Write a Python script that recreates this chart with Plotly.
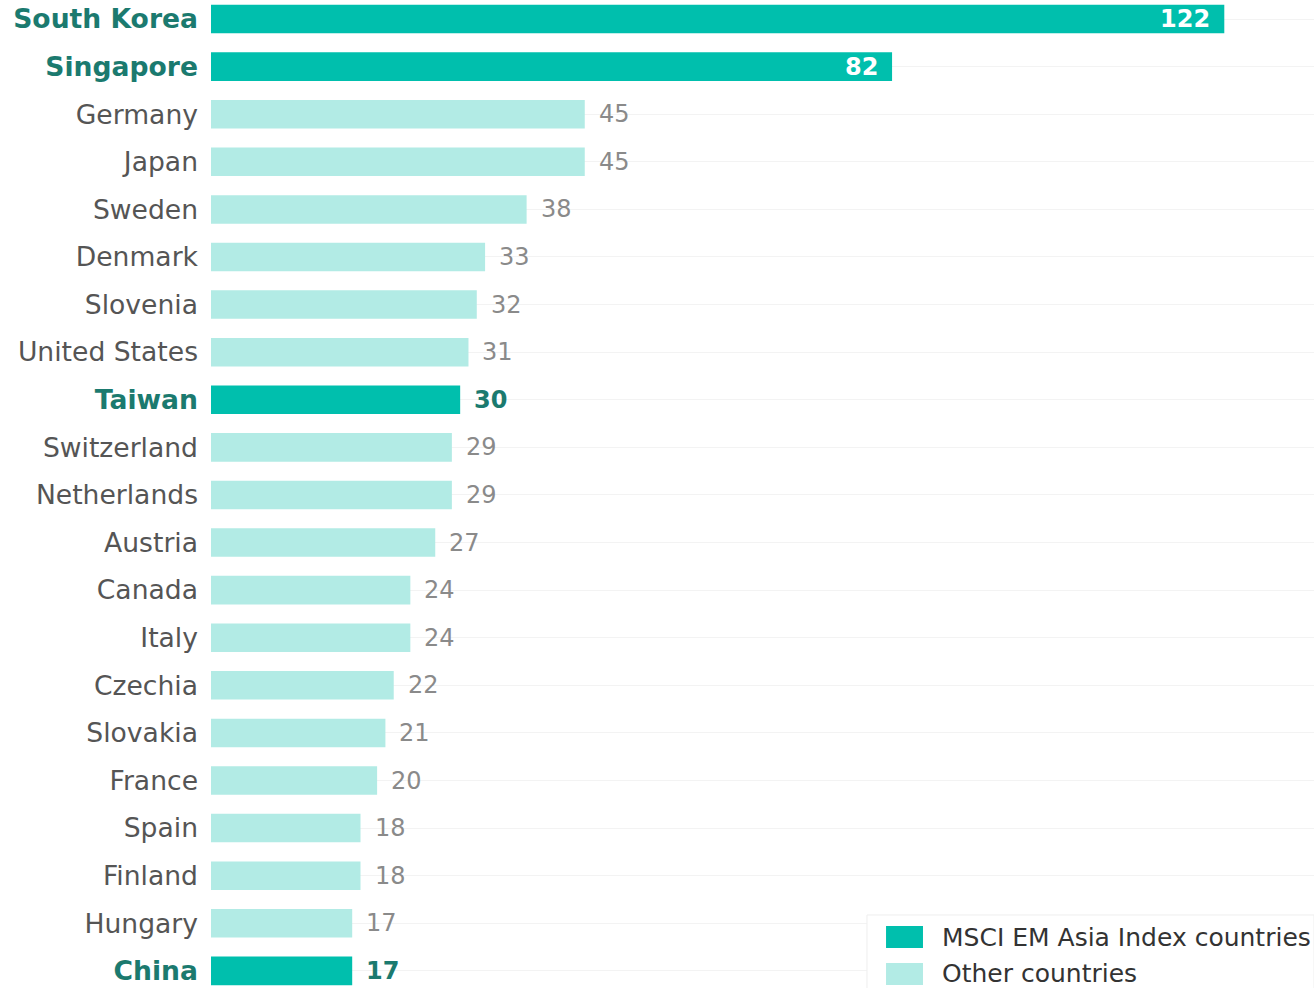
import plotly.graph_objects as go

countries = ["South Korea", "Singapore", "Germany", "Japan", "Sweden", "Denmark",
             "Slovenia", "United States", "Taiwan", "Switzerland", "Netherlands",
             "Austria", "Canada", "Italy", "Czechia", "Slovakia", "France", "Spain",
             "Finland", "Hungary", "China"]
values = [122, 82, 45, 45, 38, 33, 32, 31, 30, 29, 29, 27, 24, 24, 22, 21, 20, 18, 18, 17, 17]
msci = ["South Korea", "Singapore", "Taiwan", "China"]
legend_names = ["MSCI EM Asia Index countries", "Other countries"]

DARK = "#00BFAD"
LIGHT = "#B2EBE5"
TEAL_TEXT = "#1B7A6F"
GRAY_LABEL = "#555555"
GRAY_VALUE = "#8a8a8a"
FONT = "DejaVu Sans"

m_c = [c for c in countries if c in msci]
m_v = [v for c, v in zip(countries, values) if c in msci]
o_c = [c for c in countries if c not in msci]
o_v = [v for c, v in zip(countries, values) if c not in msci]

fig = go.Figure()
fig.add_trace(go.Bar(x=m_v, y=m_c, orientation="h", marker=dict(color=DARK, line=dict(width=0)),
                     width=0.6, name=legend_names[0], hoverinfo="x+y", showlegend=False))
fig.add_trace(go.Bar(x=o_v, y=o_c, orientation="h", marker=dict(color=LIGHT, line=dict(width=0)),
                     width=0.6, name=legend_names[1], hoverinfo="x+y", showlegend=False))

ticktext = []
for c in countries:
    if c in msci:
        ticktext.append(f"<b><span style='color:{TEAL_TEXT}'>{c}</span></b>")
    else:
        ticktext.append(f"<span style='color:{GRAY_LABEL}'>{c}</span>")

for c, v in zip(countries, values):
    if v > 60:
        fig.add_annotation(x=v, y=c, text=f"<b>{v}</b>", showarrow=False, xanchor="right",
                           xshift=-12, font=dict(family=FONT, size=24, color="white"))
    elif c in msci:
        fig.add_annotation(x=v, y=c, text=f"<b>{v}</b>", showarrow=False, xanchor="left",
                           xshift=12, font=dict(family=FONT, size=24, color=TEAL_TEXT))
    else:
        fig.add_annotation(x=v, y=c, text=f"{v}", showarrow=False, xanchor="left",
                           xshift=12, font=dict(family=FONT, size=24, color=GRAY_VALUE))

# Custom legend (larger swatches, like the reference)
fig.add_shape(type="rect", xref="paper", yref="paper", x0=0.5947, x1=1.0, y0=-0.01, y1=0.0739,
              line=dict(color="#eeeeee", width=1), fillcolor="white", layer="above")
leg_rows = [(0.0628, 0.0405, 0.0516, DARK), (0.0253, 0.003, 0.0142, LIGHT)]
for name, (y1, y0, yc, col) in zip(legend_names, leg_rows):
    fig.add_shape(type="rect", xref="paper", yref="paper", x0=0.612, x1=0.6455, y0=y0, y1=y1,
                  line=dict(width=0), fillcolor=col, layer="above")
    fig.add_annotation(xref="paper", yref="paper", x=0.6609, y=yc, text=name, showarrow=False,
                       xanchor="left", yanchor="middle",
                       font=dict(family=FONT, size=25, color="#333333"))

fig.update_layout(
    width=1314, height=988,
    margin=dict(l=211, r=0, t=0, b=0),
    paper_bgcolor="white", plot_bgcolor="white",
    barmode="overlay",
    font=dict(family=FONT, size=26.6, color=GRAY_LABEL),
    xaxis=dict(range=[0, 132.8], showgrid=False, showticklabels=False, zeroline=False,
               showline=False, ticks=""),
    yaxis=dict(type="category", categoryorder="array", categoryarray=countries,
               tickvals=countries, ticktext=ticktext, range=[20.36, -0.4],
               showgrid=True, gridcolor="#f3f3f3", gridwidth=1, ticks="",
               ticklabelstandoff=12, showline=False, zeroline=False,
               tickfont=dict(family=FONT, size=26.6)),
    showlegend=False,
)

fig.write_html("out.html")
